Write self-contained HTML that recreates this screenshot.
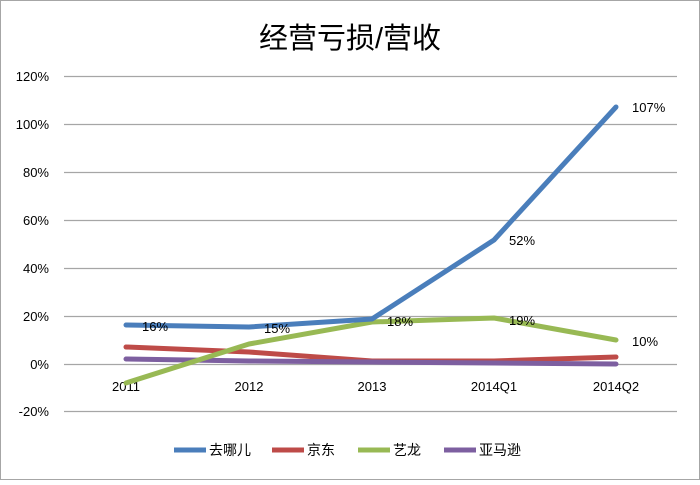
<!DOCTYPE html>
<html><head><meta charset="utf-8"><style>
body{margin:0;background:#fff}
svg text{font-family:"Liberation Sans","Noto Sans CJK SC",sans-serif;fill:#000}
</style></head><body>
<svg width="700" height="480" viewBox="0 0 700 480">
<rect x="0.5" y="0.5" width="699" height="479" fill="#fff" stroke="#a6a6a6"/>
<text x="350" y="48" font-size="29" text-anchor="middle">经营亏损/营收</text>
<g stroke="#a6a6a6" stroke-width="1.3">
<line x1="64" x2="677" y1="76.5" y2="76.5"/>
<line x1="64" x2="677" y1="124.5" y2="124.5"/>
<line x1="64" x2="677" y1="172.5" y2="172.5"/>
<line x1="64" x2="677" y1="220.5" y2="220.5"/>
<line x1="64" x2="677" y1="268.5" y2="268.5"/>
<line x1="64" x2="677" y1="316.5" y2="316.5"/>
<line x1="64" x2="677" y1="364.5" y2="364.5"/>
<line x1="64" x2="677" y1="411.5" y2="411.5"/>
</g>
<g font-size="13" text-anchor="end">
<text x="49" y="81">120%</text><text x="49" y="129">100%</text>
<text x="49" y="177">80%</text><text x="49" y="225">60%</text>
<text x="49" y="273">40%</text><text x="49" y="321">20%</text>
<text x="49" y="369">0%</text><text x="49" y="416">-20%</text>
</g>
<g font-size="13" text-anchor="middle">
<text x="126" y="391">2011</text><text x="249" y="391">2012</text>
<text x="372" y="391">2013</text><text x="494" y="391">2014Q1</text>
<text x="616" y="391">2014Q2</text>
</g>
<g fill="none" stroke-width="5" stroke-linecap="round" stroke-linejoin="round">
<polyline stroke="#be4b48" points="126,347 249,352 372,361 494,361 616,357"/>
<polyline stroke="#7d5fa0" points="126,359 249,361 372,362 494,363 616,364"/>
<polyline stroke="#98b954" points="126,383 249,344 372,322 494,318 616,340"/>
<polyline stroke="#4a7ebb" points="126,325 249,327 372,319 494,240 616,107"/>
</g>
<g font-size="13">
<text x="142" y="331">16%</text><text x="264" y="333">15%</text>
<text x="387" y="326">18%</text><text x="509" y="245">52%</text>
<text x="632" y="112">107%</text><text x="509" y="325">19%</text>
<text x="632" y="346">10%</text>
</g>
<g stroke-width="5">
<line x1="174" x2="206" y1="450" y2="450" stroke="#4a7ebb"/>
<line x1="272" x2="304" y1="450" y2="450" stroke="#be4b48"/>
<line x1="358" x2="390" y1="450" y2="450" stroke="#98b954"/>
<line x1="444" x2="476" y1="450" y2="450" stroke="#7d5fa0"/>
</g>
<g font-size="14">
<text x="209" y="455">去哪儿</text><text x="307" y="455">京东</text>
<text x="393" y="455">艺龙</text><text x="479" y="455">亚马逊</text>
</g>
</svg>
</body></html>
